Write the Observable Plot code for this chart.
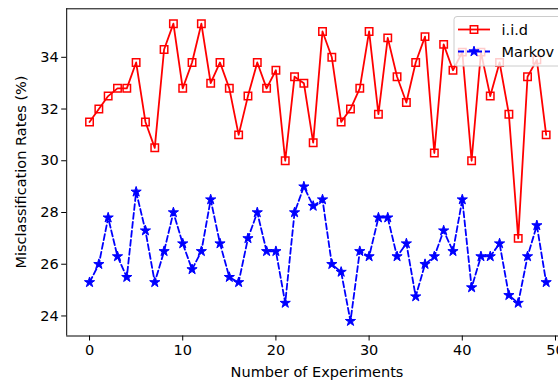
<!DOCTYPE html>
<html><head><meta charset="utf-8">
<script src="https://cdn.jsdelivr.net/npm/d3@7"></script>
<script src="https://cdn.jsdelivr.net/npm/@observablehq/plot@0.6"></script>
<style>html,body{margin:0;padding:0;background:#fff;overflow:hidden;}</style>
</head><body><div id="chart"></div>
<script>
const seriesNames = ["i.i.d", "Markov"];
const iid = [31.5,32.0,32.5,32.8,32.8,33.8,31.5,30.5,34.3,35.3,
             32.8,33.8,35.3,33.0,33.8,32.8,31.0,32.5,33.8,32.8,
             33.5,30.0,33.25,33.0,30.7,35.0,34.0,31.5,32.0,32.8,
             35.0,31.8,34.75,33.25,32.25,33.8,34.8,30.3,34.5,33.5,
             34.2,30.0,34.2,32.5,33.8,31.8,27.0,33.25,33.9,31.0];
const markov = [25.3,26.0,27.8,26.3,25.5,28.8,27.3,25.3,26.5,28.0,
                26.8,25.8,26.5,28.5,26.8,25.5,25.3,27.0,28.0,26.5,
                26.5,24.5,28.0,29.0,28.25,28.5,26.0,25.7,23.8,26.5,
                26.3,27.8,27.8,26.3,26.8,24.75,26.0,26.3,27.3,26.5,
                28.5,25.1,26.3,26.3,26.8,24.8,24.5,26.3,27.5,25.3];
const xTicks = [0,10,20,30,40,50];
const yTicks = [24,26,28,30,32,34];
const xLabel = "Number of Experiments";
const yLabel = "Misclassification Rates (%)";

const iidData = iid.map((v,i)=>({x:i, y:v}));
const markovData = markov.map((v,i)=>({x:i, y:v}));
const xDomain = [-2.45, 51.45];
const yDomain = [23.225, 35.875];
const RED = "#ff0000", BLUE = "#0000ff";
const FONT = "DejaVu Sans";

const chart = Plot.plot({
  width: 558, height: 385,
  marginLeft: 66.2, marginRight: -10.5, marginTop: 8.3, marginBottom: 49.5,
  x: {domain: xDomain},
  y: {domain: yDomain},
  style: {fontFamily: FONT, fontSize: "14.5px", background: "white", color: "black"},
  marks: [
    Plot.axisX({ticks: xTicks, tickSize: 5, tickPadding: 4, label: null, tickFormat: d => String(d)}),
    Plot.axisY({ticks: yTicks, tickSize: 5, tickPadding: 3, label: null, tickFormat: d => String(d)}),
    Plot.line(markovData, {x: "x", y: "y", stroke: BLUE, strokeWidth: 1.8, strokeDasharray: "6,3"}),
    Plot.dot(markovData, {x: "x", y: "y", symbol: "star", r: 3.2, fill: BLUE, stroke: BLUE, strokeWidth: 1}),
    Plot.line(iidData, {x: "x", y: "y", stroke: RED, strokeWidth: 1.8}),
    Plot.dot(iidData, {x: "x", y: "y", symbol: "square", r: 4.2, fill: "none", stroke: RED, strokeWidth: 1.5}),
    Plot.ruleY([yDomain[0], yDomain[1]], {stroke: "black", strokeWidth: 1}),
    Plot.ruleX([xDomain[0]], {stroke: "black", strokeWidth: 1})
  ]
});
document.getElementById("chart").appendChild(chart);

const svg = d3.select(chart);
svg.append("text").attr("x", 317).attr("y", 377).attr("text-anchor", "middle")
  .attr("font-family", FONT).attr("font-size", "14.5px").attr("fill", "black").text(xLabel);
svg.append("text").attr("transform", "translate(26,172) rotate(-90)").attr("text-anchor", "middle")
  .attr("font-family", FONT).attr("font-size", "14.5px").attr("fill", "black").text(yLabel);

// legend
const lg = svg.append("g");
lg.append("rect").attr("x", 454).attr("y", 16.5).attr("width", 112).attr("height", 49.5)
  .attr("rx", 3).attr("fill", "white").attr("fill-opacity", 0.8).attr("stroke", "#cccccc").attr("stroke-width", 1);
const rows = [
  {name: seriesNames[0], y: 29.5, color: RED, dash: null, sym: d3.symbolSquare, size: 55, fill: "none", sw: 1.5},
  {name: seriesNames[1], y: 51.5, color: BLUE, dash: "6,3", sym: d3.symbolStar, size: 32, fill: BLUE, sw: 1}
];
rows.forEach(r => {
  const ln = lg.append("line").attr("x1", 458).attr("x2", 490).attr("y1", r.y).attr("y2", r.y)
    .attr("stroke", r.color).attr("stroke-width", 1.8);
  if (r.dash) ln.attr("stroke-dasharray", r.dash);
  lg.append("path").attr("d", d3.symbol(r.sym, r.size)()).attr("transform", `translate(474,${r.y})`)
    .attr("fill", r.fill).attr("stroke", r.color).attr("stroke-width", r.sw);
  lg.append("text").attr("x", 501.5).attr("y", r.y).attr("dy", "0.35em").attr("text-anchor", "start")
    .attr("font-family", FONT).attr("font-size", "14.5px").attr("fill", "black").text(r.name);
});
</script>
</body></html>
